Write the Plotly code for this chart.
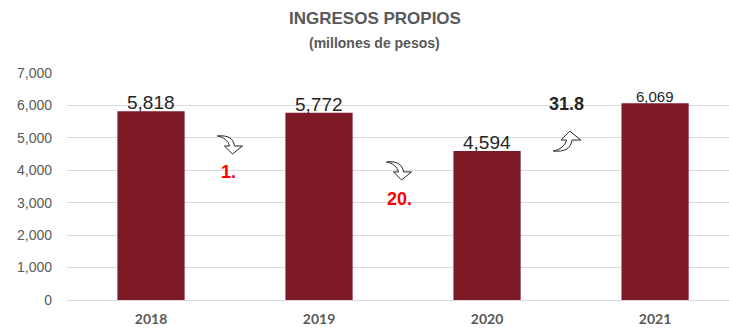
import plotly.graph_objects as go

# Own revenue by year (millions of pesos)
years = ["2018", "2019", "2020", "2021"]
revenue = [5818, 5772, 4594, 6069]
value_labels = ["5,818", "5,772", "4,594", "6,069"]
label_sizes = [19, 19, 19, 15]

# Year-over-year change notes, placed between bars
change_text = ["1.", "20.", "31.8"]
change_colors = ["#FF0000", "#FF0000", "#262626"]
change_x = [0.46, 1.48, 2.47]
change_y = [3950, 3100, 6050]
arrow_dirs = ["down", "down", "up"]
arrow_x = [0.47, 1.476, 2.476]
arrow_y = [4780, 3980, 4900]

bar_color = "#7E1A28"
xpos = list(range(len(years)))

# Outlined curved arrow, in pixels around its anchor (y up)
ARROW_DOWN = [(-12.5, 9), "C", (-2.5, 10), (3.5, 7), (4.5, -1), "L", (12.5, -1),
              "L", (2.5, -9), "L", (-5.5, -1), "L", (-0.5, -1),
              "C", (-1.5, 4), (-6.5, 8), (-12.5, 9)]


def arrow_path(direction, scale=1.0):
    sign = 1 if direction == "down" else -1
    parts = ["M"]
    for p in ARROW_DOWN:
        if isinstance(p, str):
            parts.append(p)
        else:
            parts.append(f"{p[0] * scale:.2f} {sign * p[1] * scale:.2f}")
    return " ".join(parts) + " Z"


fig = go.Figure()
fig.add_trace(go.Bar(
    x=xpos, y=revenue, width=0.4,
    marker=dict(color=bar_color, line=dict(width=0)),
    hoverinfo="skip",
))

annotations = []
for x, v, t, s in zip(xpos, revenue, value_labels, label_sizes):
    annotations.append(dict(
        x=x, y=v, text=t, showarrow=False, yanchor="bottom", yshift=-4,
        font=dict(family="Liberation Sans", size=s, color="#262626"),
    ))
for x, y, t, c in zip(change_x, change_y, change_text, change_colors):
    annotations.append(dict(
        x=x, y=y, text=f"<b>{t}</b>", showarrow=False,
        font=dict(family="Liberation Sans", size=18, color=c),
    ))

annotations.append(dict(
    xref="paper", yref="paper", x=0.465, y=1.0, yshift=66,
    text="<b>INGRESOS PROPIOS</b>", showarrow=False,
    font=dict(family="Liberation Sans", size=17, color="#595959"),
))
annotations.append(dict(
    xref="paper", yref="paper", x=0.465, y=1.0, yshift=40,
    text="<b>(millones de pesos)</b>", showarrow=False,
    font=dict(family="Liberation Sans", size=14, color="#595959"),
))

shapes = []
for x, y, d in zip(arrow_x, arrow_y, arrow_dirs):
    shapes.append(dict(
        type="path", xref="x", yref="y",
        xsizemode="pixel", ysizemode="pixel", xanchor=x, yanchor=y,
        path=arrow_path(d, 1.0 if d == "down" else 1.1),
        fillcolor="white", line=dict(color="#262626", width=1),
    ))

fig.update_layout(
    width=729, height=332,
    margin=dict(l=67, r=0, t=73, b=32),
    paper_bgcolor="white", plot_bgcolor="white",
    showlegend=False,
    annotations=annotations,
    shapes=shapes,
    xaxis=dict(
        range=[-0.5, 3.44], tickvals=xpos, ticktext=years,
        showgrid=False, zeroline=False, showline=False,
        tickfont=dict(family="Lato", size=14, color="#595959", weight="bold"),
        ticklabelstandoff=9,
    ),
    yaxis=dict(
        range=[0, 7000], dtick=1000, tickformat=",d",
        showgrid=True, gridcolor="#D9D9D9", gridwidth=1,
        zeroline=True, zerolinecolor="#D9D9D9", zerolinewidth=1,
        tickfont=dict(family="Liberation Sans", size=14, color="#595959"),
        ticklabelstandoff=14,
    ),
)

fig.write_html("out.html")
